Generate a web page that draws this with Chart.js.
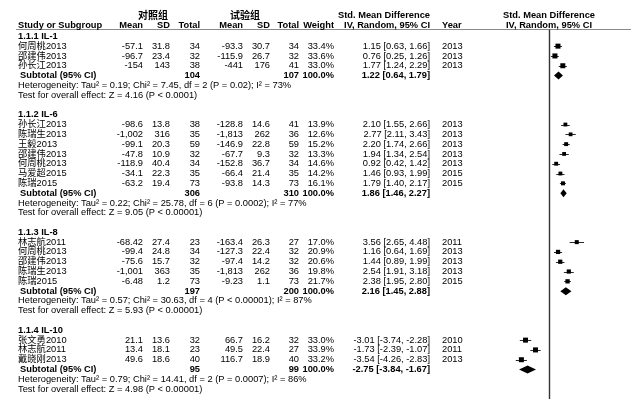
<!DOCTYPE html>
<html>
<head>
<meta charset="utf-8">
<script src="https://cdn.jsdelivr.net/npm/chart.js@4.4.1/dist/chart.umd.min.js"></script>
<style>
  html, body { margin: 0; padding: 0; background: #ffffff; }
  #wrap { width: 631px; height: 399px; position: relative; }
</style>
</head>
<body>
<div id="wrap"><canvas id="forest" width="631" height="399"></canvas></div>
<script>
// ---- Subgroups ----
const groupTitles = ['1.1.1 IL-1', '1.1.2 IL-6', '1.1.3 IL-8', '1.1.4 IL-10'];
const groupSizes = [3, 7, 5, 3];

// ---- Individual studies (in drawing order) ----
const studyNames = [
  '何周桃2013', '邵建伟2013', '孙长江2013',
  '孙长江2013', '陈瑞生2013', '王毅2013', '邵建伟2013', '何周桃2013', '马爱超2015', '陈瑞2015',
  '林志航2011', '何周桃2013', '邵建伟2013', '陈瑞生2013', '陈瑞2015',
  '张文勇2010', '林志航2011', '戴晓刚2013'
];
const ctrlMean = [-57.1, -96.7, -154,  -98.6, -1002, -99.1, -47.8, -118.9, -34.1, -63.2,  -68.42, -99.4, -75.6, -1001, -6.48,  21.1, 13.4, 49.6];
const ctrlSD   = [31.8, 23.4, 143,  13.8, 316, 20.3, 10.9, 40.4, 22.3, 19.4,  27.4, 24.8, 15.7, 363, 1.2,  13.6, 18.1, 18.6];
const ctrlN    = [34, 32, 38,  38, 35, 59, 32, 34, 35, 73,  23, 34, 32, 35, 73,  32, 23, 40];
const expMean  = [-93.3, -115.9, -441,  -128.8, -1813, -146.9, -67.7, -152.8, -66.4, -93.8,  -163.4, -127.3, -97.4, -1813, -9.23,  66.7, 49.5, 116.7];
const expSD    = [30.7, 26.7, 176,  14.6, 262, 22.8, 9.3, 36.7, 21.4, 14.3,  26.3, 22.4, 14.2, 262, 1.1,  16.2, 22.4, 18.9];
const expN     = [34, 32, 41,  41, 36, 59, 32, 34, 35, 73,  27, 32, 32, 36, 73,  32, 27, 40];
const weights  = [33.4, 33.6, 33.0,  13.9, 12.6, 15.2, 13.3, 14.6, 14.2, 16.1,  17.0, 20.9, 20.6, 19.8, 21.7,  33.0, 33.9, 33.2];
const smd      = [1.15, 0.76, 1.77,  2.10, 2.77, 2.20, 1.94, 0.92, 1.46, 1.79,  3.56, 1.16, 1.44, 2.54, 2.38,  -3.01, -1.73, -3.54];
const smdLow   = [0.63, 0.25, 1.24,  1.55, 2.11, 1.74, 1.34, 0.42, 0.93, 1.40,  2.65, 0.64, 0.89, 1.91, 1.95,  -3.74, -2.39, -4.26];
const smdHigh  = [1.66, 1.26, 2.29,  2.66, 3.43, 2.66, 2.54, 1.42, 1.99, 2.17,  4.48, 1.69, 1.99, 3.18, 2.80,  -2.28, -1.07, -2.83];
const years    = [2013, 2013, 2013,  2013, 2013, 2013, 2013, 2013, 2015, 2015,  2011, 2013, 2013, 2013, 2015,  2010, 2011, 2013];

// ---- Subgroup totals ----
const subCtrlN = [104, 306, 197, 95];
const subExpN  = [107, 310, 200, 99];
const subSmd   = [1.22, 1.86, 2.16, -2.75];
const subLow   = [0.64, 1.46, 1.45, -3.84];
const subHigh  = [1.79, 2.27, 2.88, -1.67];
const hetText = [
  'Heterogeneity: Tau² = 0.19; Chi² = 7.45, df = 2 (P = 0.02); I² = 73%',
  'Heterogeneity: Tau² = 0.22; Chi² = 25.78, df = 6 (P = 0.0002); I² = 77%',
  'Heterogeneity: Tau² = 0.57; Chi² = 30.63, df = 4 (P < 0.00001); I² = 87%',
  'Heterogeneity: Tau² = 0.79; Chi² = 14.41, df = 2 (P = 0.0007); I² = 86%'
];
const testText = [
  'Test for overall effect: Z = 4.16 (P < 0.0001)',
  'Test for overall effect: Z = 9.05 (P < 0.00001)',
  'Test for overall effect: Z = 5.93 (P < 0.00001)',
  'Test for overall effect: Z = 4.98 (P < 0.00001)'
];

// ---- Axis ----
const xMin = -10, xMax = 10;

// ---- Row layout: title, studies, subtotal, heterogeneity, test, blank ----
const studyRow = [];
const titleRow = [], subRow = [], hetRow = [], testRow = [];
let row = 0;
groupSizes.forEach((n, g) => {
  titleRow.push(row);
  for (let k = 1; k <= n; k++) studyRow.push(row + k);
  subRow.push(row + n + 1);
  hetRow.push(row + n + 2);
  testRow.push(row + n + 3);
  row += n + 5;
});

const SANS = '"Liberation Sans", Arial, "Noto Sans CJK SC", sans-serif';
const fmtNum = v => v.toLocaleString('en-US', { maximumFractionDigits: 2 });
const fmtCI = (m, l, h) => m.toFixed(2) + ' [' + l.toFixed(2) + ', ' + h.toFixed(2) + ']';

// column anchors for the table
const COL = { name: 18, cMean: 143, cSD: 170, cN: 200, eMean: 243, eSD: 270, eN: 299, w: 334, ci: 430, year: 442 };

const tablePlugin = {
  id: 'forestTable',
  beforeDatasetsDraw(chart) {
    const { ctx, scales: { x, y } } = chart;
    ctx.save();
    // header rule
    ctx.strokeStyle = '#8a8a8a';
    ctx.lineWidth = 1;
    ctx.beginPath();
    ctx.moveTo(16, 29.5);
    ctx.lineTo(631, 29.5);
    ctx.stroke();
    // line of no effect
    const x0 = Math.round(x.getPixelForValue(0)) + 0.5;
    ctx.strokeStyle = '#333333';
    ctx.lineWidth = 1.4;
    ctx.beginPath();
    ctx.moveTo(x0, 29.5);
    ctx.lineTo(x0, 399);
    ctx.stroke();
    // confidence intervals of each study
    ctx.strokeStyle = '#2a2a2a';
    ctx.lineWidth = 1;
    smd.forEach((m, i) => {
      const py = Math.round(y.getPixelForValue(studyRow[i])) + 0.5;
      ctx.beginPath();
      ctx.moveTo(x.getPixelForValue(smdLow[i]), py);
      ctx.lineTo(x.getPixelForValue(smdHigh[i]), py);
      ctx.stroke();
    });
    // pooled estimates as diamonds
    ctx.fillStyle = '#000000';
    subSmd.forEach((m, g) => {
      const py = y.getPixelForValue(subRow[g]);
      const h = 4;
      ctx.beginPath();
      ctx.moveTo(x.getPixelForValue(subLow[g]), py);
      ctx.lineTo(x.getPixelForValue(m), py - h);
      ctx.lineTo(x.getPixelForValue(subHigh[g]), py);
      ctx.lineTo(x.getPixelForValue(m), py + h);
      ctx.closePath();
      ctx.fill();
    });
    ctx.restore();
  },
  afterDraw(chart) {
    const { ctx, scales: { y } } = chart;
    ctx.save();
    ctx.fillStyle = '#000000';
    ctx.textBaseline = 'middle';
    const bold = 'bold 9.3px ' + SANS;
    const reg = '9.3px ' + SANS;
    const put = (t, px, py, align, font) => {
      ctx.font = font; ctx.textAlign = align; ctx.fillText(t, px, py);
    };
    // column headings
    put('对照组', 153, 15, 'center', 'bold 10px "Noto Sans CJK SC", sans-serif');
    put('试验组', 245, 15, 'center', 'bold 10px "Noto Sans CJK SC", sans-serif');
    put('Std. Mean Difference', COL.ci, 15, 'right', bold);
    put('Std. Mean Difference', 549, 15, 'center', bold);
    const hy = 25;
    put('Study or Subgroup', COL.name, hy, 'left', bold);
    put('Mean', COL.cMean, hy, 'right', bold);
    put('SD', COL.cSD, hy, 'right', bold);
    put('Total', COL.cN, hy, 'right', bold);
    put('Mean', COL.eMean, hy, 'right', bold);
    put('SD', COL.eSD, hy, 'right', bold);
    put('Total', COL.eN, hy, 'right', bold);
    put('Weight', COL.w, hy, 'right', bold);
    put('IV, Random, 95% CI', COL.ci, hy, 'right', bold);
    put('Year', COL.year, hy, 'left', bold);
    put('IV, Random, 95% CI', 549, hy, 'center', bold);

    // studies
    studyNames.forEach((name, i) => {
      const py = y.getPixelForValue(studyRow[i]);
      put(name, COL.name, py, 'left', reg);
      put(fmtNum(ctrlMean[i]), COL.cMean, py, 'right', reg);
      put(fmtNum(ctrlSD[i]), COL.cSD, py, 'right', reg);
      put(String(ctrlN[i]), COL.cN, py, 'right', reg);
      put(fmtNum(expMean[i]), COL.eMean, py, 'right', reg);
      put(fmtNum(expSD[i]), COL.eSD, py, 'right', reg);
      put(String(expN[i]), COL.eN, py, 'right', reg);
      put(weights[i].toFixed(1) + '%', COL.w, py, 'right', reg);
      put(fmtCI(smd[i], smdLow[i], smdHigh[i]), COL.ci, py, 'right', reg);
      put(String(years[i]), COL.year, py, 'left', reg);
    });

    // subgroup blocks
    groupTitles.forEach((title, g) => {
      put(title, COL.name, y.getPixelForValue(titleRow[g]), 'left', bold);
      const sy = y.getPixelForValue(subRow[g]);
      put('Subtotal (95% CI)', COL.name + 2, sy, 'left', bold);
      put(String(subCtrlN[g]), COL.cN, sy, 'right', bold);
      put(String(subExpN[g]), COL.eN, sy, 'right', bold);
      put('100.0%', COL.w, sy, 'right', bold);
      put(fmtCI(subSmd[g], subLow[g], subHigh[g]), COL.ci, sy, 'right', bold);
      put(hetText[g], COL.name, y.getPixelForValue(hetRow[g]), 'left', reg);
      put(testText[g], COL.name, y.getPixelForValue(testRow[g]), 'left', reg);
    });
    ctx.restore();
  }
};

new Chart(document.getElementById('forest'), {
  type: 'scatter',
  data: {
    datasets: [{
      label: 'Std. Mean Difference',
      data: smd.map((m, i) => ({ x: m, y: studyRow[i] })),
      pointStyle: 'rect',
      pointRadius: weights.map(w => (3 + w * 0.06) / Math.SQRT2),
      backgroundColor: '#000000',
      borderWidth: 0
    }]
  },
  options: {
    responsive: false,
    animation: false,
    devicePixelRatio: 1,
    layout: { padding: { left: 471, right: 4, top: 0, bottom: 0 } },
    scales: {
      x: { type: 'linear', min: xMin, max: xMax, display: false },
      y: { type: 'linear', min: -3.3, max: 36.6, reverse: true, display: false }
    },
    plugins: { legend: { display: false }, tooltip: { enabled: false } },
    events: []
  },
  plugins: [tablePlugin]
});
</script>
</body>
</html>
